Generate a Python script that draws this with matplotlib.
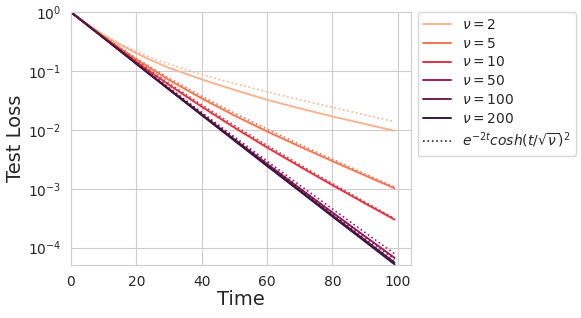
import matplotlib
matplotlib.use("Agg")
import matplotlib.pyplot as plt
import seaborn as sns

sns.set_style("whitegrid")
plt.rc('xtick', labelsize=10)
plt.rc('ytick', labelsize=10)
plt.rc('axes', labelsize=14)

# time steps
t = [0, 10, 20, 30, 40, 50, 60, 70, 80, 90, 99]
t_2 = [0, 5, 10, 15, 20, 25, 30, 40, 50, 60, 70, 80, 90, 99]  # finer grid for the curved nu=2 line
nus = [2, 5, 10, 50, 100, 200]

# measured test loss (solid)
loss_2 = [1, 0.6226, 0.4075, 0.2803, 0.2000, 0.1483, 0.1133, 0.0721, 0.0477, 0.0324, 0.0232, 0.0169, 0.0126, 0.00965]
loss_5 = [1, 0.3827, 0.1577, 0.0705, 0.0343, 0.01757, 0.00942, 0.00523, 0.00295, 0.00168, 0.00102]
loss_10 = [1, 0.3734, 0.1434, 0.0581, 0.0248, 0.01095, 0.00503, 0.00239, 0.001153, 0.000565, 0.000300]
loss_50 = [1, 0.3660, 0.1339, 0.0495, 0.01843, 0.00693, 0.00266, 0.001016, 0.000396, 0.000155, 6.72e-5]
loss_100 = [1, 0.3651, 0.1326, 0.0484, 0.01792, 0.00667, 0.00249, 0.000936, 0.000353, 0.0001336, 5.59e-5]
loss_200 = [1, 0.3665, 0.1333, 0.0488, 0.01794, 0.00660, 0.00244, 0.000911, 0.000338, 0.0001268, 5.21e-5]

# theory curves (dotted)
theory_2 = [1, 0.62568, 0.41581, 0.29200, 0.21506, 0.16475, 0.13022, 0.086903, 0.061217, 0.044375, 0.032637, 0.024174, 0.017973, 0.013787]
theory_5 = [1, 0.38661, 0.16425, 0.075763, 0.037317, 0.019310, 0.010350, 0.0056836, 0.0031720, 0.0017894, 0.0010756]
theory_10 = [1, 0.37716, 0.14933, 0.061854, 0.026674, 0.011903, 0.0054647, 0.0025664, 0.0012270, 0.00059478, 0.00031277]
theory_50 = [1, 0.36972, 0.13806, 0.052061, 0.019818, 0.0076158, 0.0029523, 0.0011540, 0.00045460, 0.00018040, 7.9046e-5]
theory_100 = [1, 0.36880, 0.13669, 0.050916, 0.019059, 0.0071679, 0.0027087, 0.0010282, 0.00039206, 0.00015013, 6.3496e-5]
theory_200 = [1, 0.36834, 0.13601, 0.050349, 0.018685, 0.0069506, 0.0025920, 0.00096890, 0.00036297, 0.00013633, 5.6577e-5]

times = [t_2, t, t, t, t, t]
losses = [loss_2, loss_5, loss_10, loss_50, loss_100, loss_200]
theories = [theory_2, theory_5, theory_10, theory_50, theory_100, theory_200]

colors = sns.color_palette("rocket_r", len(nus))

fig, ax = plt.subplots(figsize=(5.81, 3.18), dpi=100)
for nu, tt, l, c in zip(nus, times, losses, colors):
    ax.plot(tt, l, color=c, lw=1.4, label=r'$\nu = %d$' % nu)
for tt, th, c in zip(times, theories, colors):
    dot, = ax.plot(tt, th, color=c, lw=1.2, ls=':')

ax.set_yscale('log')
ax.set_xlim(left=0)
ax.set_ylim(5.1e-5, 1)
ax.set_xlabel('Time', labelpad=1)
ax.set_ylabel('Test Loss', labelpad=2)

handles, labels = ax.get_legend_handles_labels()
handles.append(dot)
labels.append(r'$e^{-2t}cosh(t/\sqrt{\nu})^2$')
ax.legend(handles, labels, loc='upper left', bbox_to_anchor=(1.02, 1.0),
          fontsize=10, labelspacing=0.35, borderaxespad=0)

plt.subplots_adjust(left=0.122, right=0.707, top=0.962, bottom=0.167)
plt.savefig('out.png', dpi=100)
